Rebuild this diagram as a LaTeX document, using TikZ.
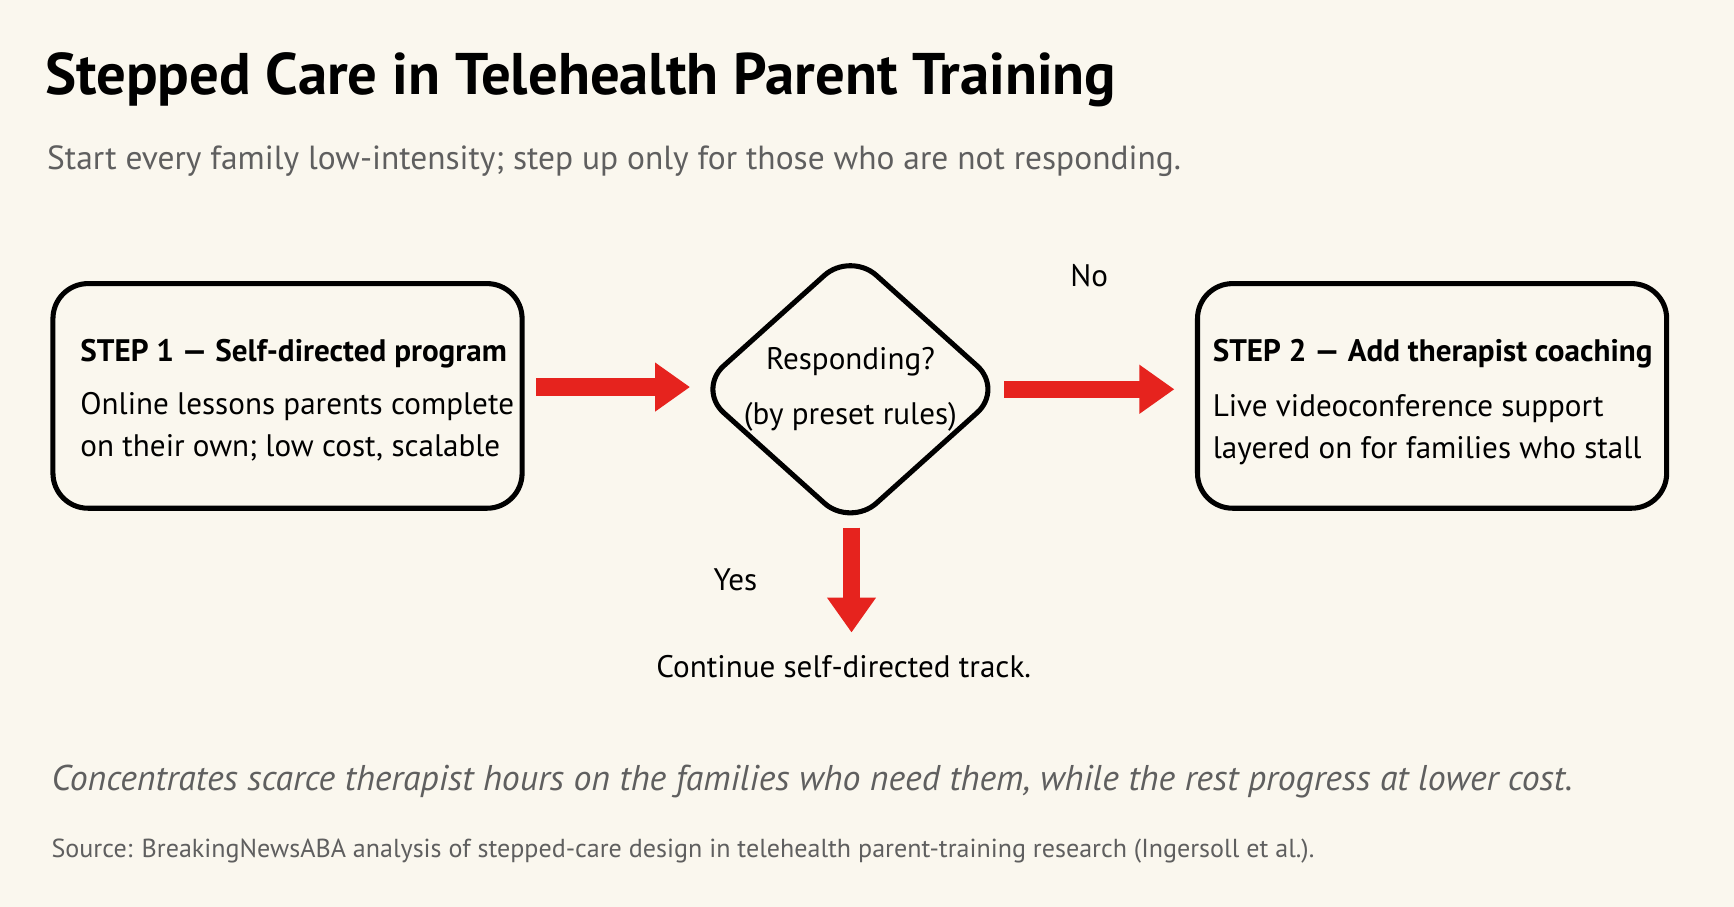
\documentclass[tikz,border=0pt]{standalone}
\usepackage{fontspec}
\setmainfont{PT Sans}
\usetikzlibrary{shapes.geometric,arrows.meta,positioning}
\definecolor{paper}{RGB}{250,247,238}
\definecolor{stepred}{RGB}{230,35,30}
\definecolor{inkgray}{RGB}{95,95,95}
\begin{document}
\begin{tikzpicture}[
        x=0.01cm, y=-0.01cm,
        every node/.style={font=\fontsize{8}{11}\selectfont, inner sep=0pt},
        stepbox/.style={rectangle, draw, line width=1.3pt, rounded corners=9pt, minimum width=4.24cm, minimum height=2.03cm},
        check/.style={diamond, draw, line width=1.3pt, rounded corners=9pt, minimum width=2.78cm, minimum height=2.5cm},
        line/.style={anchor=base west},
        arrow/.style={-{Triangle[length=9pt,width=12pt]}, line width=4.5pt, stepred}
    ]
        \fill[paper] (0,0) rectangle (1568,820);

        % Title block
        \node[anchor=base west, font=\fontsize{15.1}{18}\selectfont\bfseries] (title) at (40,85) {Stepped Care in Telehealth Parent Training};
        \node[anchor=base west, text=inkgray, font=\fontsize{8.6}{11}\selectfont] (subtitle) at (42,153) {Start every family low-intensity; step up only for those who are not responding.};

        % Flow
        \node[stepbox] (step1) at (260,358) {};
        \node[check] (resp) at (769,352) {};
        \node[stepbox] (step2) at (1295,358) {};
        \node[align=center, font=\fontsize{8}{14}\selectfont] at (resp) {Responding?\\(by preset rules)};

        \node[line, font=\fontsize{8}{11}\selectfont\bfseries] at (72,327) {STEP 1 — Self-directed program};
        \node[line] at (72,375) {Online lessons parents complete};
        \node[line] at (72,413) {on their own; low cost, scalable};
        \node[line, font=\fontsize{8}{11}\selectfont\bfseries] at (1096,327) {STEP 2 — Add therapist coaching};
        \node[line] at (1096,377) {Live videoconference support};
        \node[line] at (1096,415) {layered on for families who stall};

        \coordinate (a1s) at (485,350);
        \coordinate (a1e) at (624,350);
        \coordinate (a2s) at (908,352);
        \coordinate (a2e) at (1062,352);
        \coordinate (a3s) at (770,477);
        \coordinate (a3e) at (770,572);
        \draw[arrow] (a1s) -- (a1e);
        \draw[arrow] (a2s) -- node[above=24pt, text=black] {No} (a2e);
        \draw[arrow] (a3s) -- node[left=22pt, text=black] {Yes} (a3e);
        \node[anchor=base] (cont) at (763,613) {Continue self-directed track.};

        % Footnotes
        \node[anchor=base west, text=inkgray, font=\fontsize{9.2}{12}\selectfont\itshape] (note) at (46,715) {Concentrates scarce therapist hours on the families who need them, while the rest progress at lower cost.};
        \node[anchor=base west, text=inkgray, font=\fontsize{6.7}{9}\selectfont] (source) at (46,775) {Source: BreakingNewsABA analysis of stepped-care design in telehealth parent-training research (Ingersoll et al.).};
    \end{tikzpicture}
\end{document}
